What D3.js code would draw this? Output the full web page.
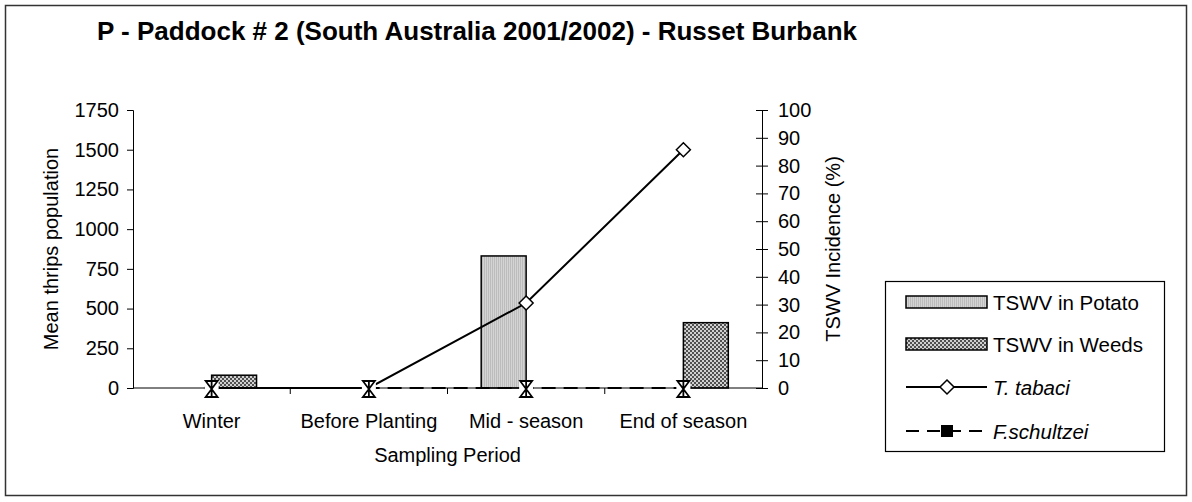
<!DOCTYPE html>
<html>
<head>
<meta charset="utf-8">
<script src="https://cdn.jsdelivr.net/npm/d3@7"></script>
<style>
  html, body { margin: 0; padding: 0; background: #fff; }
  svg text { font-family: "Liberation Sans", Arial, sans-serif; fill: #000; }
</style>
</head>
<body>
<svg id="chart" width="1192" height="502"></svg>
<script>
// Sampling periods and series
const periods = ["Winter", "Before Planting", "Mid - season", "End of season"];
const tswvPotato = [0, 0, 47.5, 0];      // TSWV incidence in potato (%)
const tswvWeeds = [4.6, 0, 0, 23.5];     // TSWV incidence in weeds (%)
const tTabaci = [0, 0, 535, 1500];       // mean thrips population
const fSchultzei = [0, 0, 0, 0];         // mean thrips population
const leftTicks = [0, 250, 500, 750, 1000, 1250, 1500, 1750];
const rightTicks = [0, 10, 20, 30, 40, 50, 60, 70, 80, 90, 100];

const svg = d3.select("#chart");
const plot = { left: 133, right: 762, top: 110, bottom: 388 };

// fill patterns for the two bar series
const defs = svg.append("defs");
const pPot = defs.append("pattern").attr("id", "patPotato")
  .attr("patternUnits", "userSpaceOnUse").attr("width", 2).attr("height", 2);
pPot.append("rect").attr("width", 2).attr("height", 2).attr("fill", "#d4d4d4");
pPot.append("rect").attr("width", 1).attr("height", 2).attr("fill", "#bcbcbc");

const pWd = defs.append("pattern").attr("id", "patWeeds")
  .attr("patternUnits", "userSpaceOnUse").attr("width", 4).attr("height", 4);
pWd.append("rect").attr("width", 4).attr("height", 4).attr("fill", "#d0d0d0");
pWd.append("rect").attr("width", 2).attr("height", 2).attr("fill", "#505050");
pWd.append("rect").attr("x", 2).attr("y", 2).attr("width", 2).attr("height", 2).attr("fill", "#505050");

// outer frame
svg.append("rect").attr("x", 5.5).attr("y", 5.5).attr("width", 1181).attr("height", 490)
  .attr("fill", "none").attr("stroke", "#333").attr("stroke-width", 1.5);

// title
svg.append("text").attr("x", 97).attr("y", 40)
  .style("font-size", "26px").style("font-weight", "bold")
  .text("P - Paddock # 2 (South Australia 2001/2002) - Russet Burbank");

// scales
const x = d3.scaleBand().domain(periods).range([plot.left, plot.right]).paddingInner(0).paddingOuter(0);
const yL = d3.scaleLinear().domain([0, 1750]).range([plot.bottom, plot.top]);
const yR = d3.scaleLinear().domain([0, 100]).range([plot.bottom, plot.top]);
const barW = x.bandwidth() / 3.5;
const sub = d3.scaleBand().domain(["potato", "weeds"]).range([-barW, barW]);
const cx = d => x(d) + x.bandwidth() / 2;

// bars (right axis)
const barSeries = [
  { key: "potato", values: tswvPotato, fill: "url(#patPotato)" },
  { key: "weeds", values: tswvWeeds, fill: "url(#patWeeds)" }
];
barSeries.forEach(s => {
  svg.append("g").selectAll("rect")
    .data(periods.map((p, i) => ({ p, v: s.values[i] })).filter(d => d.v > 0))
    .join("rect")
    .attr("x", d => cx(d.p) + sub(s.key))
    .attr("y", d => yR(d.v))
    .attr("width", sub.bandwidth())
    .attr("height", d => yR(0) - yR(d.v))
    .attr("fill", s.fill)
    .attr("stroke", "#000").attr("stroke-width", 1.5);
});

// left axis
const axL = svg.append("g").attr("transform", `translate(${plot.left},0)`)
  .call(d3.axisLeft(yL).tickValues(leftTicks).tickSize(6).tickPadding(8).tickFormat(d3.format("d")));
axL.selectAll("text").style("font-size", "20px");

// right axis with crossing ticks
const axR = svg.append("g").attr("transform", `translate(${plot.right},0)`)
  .call(d3.axisRight(yR).tickValues(rightTicks).tickSize(6).tickPadding(10).tickFormat(d3.format("d")));
axR.selectAll(".tick line").attr("x1", -6);
axR.selectAll("text").style("font-size", "20px");

// bottom axis: ticks at band boundaries
const axB = svg.append("g").attr("transform", `translate(0,${plot.bottom})`)
  .call(d3.axisBottom(x).tickSize(0).tickPadding(26));
axB.selectAll("text").style("font-size", "20px");
axB.select(".domain").remove();
svg.append("g").selectAll("line")
  .data(periods.slice(1))
  .join("line")
  .attr("x1", d => x(d)).attr("x2", d => x(d))
  .attr("y1", plot.bottom).attr("y2", plot.bottom + 6)
  .attr("stroke", "#000");
svg.append("line").attr("x1", plot.left).attr("x2", plot.right)
  .attr("y1", plot.bottom).attr("y2", plot.bottom).attr("stroke", "#000");

[axL, axR].forEach(a => a.selectAll("path.domain, line").attr("stroke", "#000"));

// axis titles
svg.append("text")
  .attr("transform", `translate(51,${(plot.top + plot.bottom) / 2}) rotate(-90)`)
  .attr("text-anchor", "middle").attr("dominant-baseline", "central")
  .style("font-size", "20px").text("Mean thrips population");
svg.append("text")
  .attr("transform", `translate(833,${(plot.top + plot.bottom) / 2}) rotate(-90)`)
  .attr("text-anchor", "middle").attr("dominant-baseline", "central")
  .style("font-size", "20px").text("TSWV Incidence (%)");
svg.append("text").attr("x", (plot.left + plot.right) / 2).attr("y", 462)
  .attr("text-anchor", "middle").style("font-size", "20px").text("Sampling Period");

// lines (left axis)
const line = d3.line().x((d, i) => cx(periods[i])).y(d => yL(d));
svg.append("path").datum(fSchultzei).attr("d", line)
  .attr("fill", "none").attr("stroke", "#000").attr("stroke-width", 2).attr("stroke-dasharray", "14,8");
svg.append("path").datum(tTabaci).attr("d", line)
  .attr("fill", "none").attr("stroke", "#000").attr("stroke-width", 2);

const diamond = "M0,-7L7,0L0,7L-7,0Z";
svg.append("g").selectAll("path")
  .data(tTabaci)
  .join("path")
  .attr("transform", (d, i) => `translate(${cx(periods[i])},${yL(d)})`)
  .attr("d", diamond).attr("fill", "#fff").attr("stroke", "#000").attr("stroke-width", 1.5);

// F.schultzei point markers
const glyph = "M-6,-8H6L-6,8H6Z M0,-8V8";
svg.append("g").selectAll("g")
  .data(fSchultzei)
  .join("g")
  .attr("transform", (d, i) => `translate(${cx(periods[i])},${yL(d) + 1})`)
  .call(g => {
    g.append("rect").attr("x", -7).attr("y", -9).attr("width", 14).attr("height", 18).attr("fill", "#fff");
    g.append("path").attr("d", glyph).attr("fill", "none").attr("stroke", "#000").attr("stroke-width", 1.8);
  });

// legend
const lg = svg.append("g");
lg.append("rect").attr("x", 885.5).attr("y", 281.5).attr("width", 279).attr("height", 170)
  .attr("fill", "#fff").attr("stroke", "#000").attr("stroke-width", 1.2);
const legendItems = [
  { label: "TSWV in Potato", type: "bar", fill: "url(#patPotato)", italic: false },
  { label: "TSWV in Weeds", type: "bar", fill: "url(#patWeeds)", italic: false },
  { label: "T. tabaci", type: "diamond", italic: true },
  { label: "F.schultzei", type: "square", italic: true }
];
const ly = [302, 344, 387, 431];
legendItems.forEach((it, i) => {
  const y = ly[i];
  if (it.type === "bar") {
    lg.append("rect").attr("x", 906).attr("y", y - 6).attr("width", 81).attr("height", 12)
      .attr("fill", it.fill).attr("stroke", "#000").attr("stroke-width", 1.5);
  } else if (it.type === "diamond") {
    lg.append("line").attr("x1", 906).attr("x2", 987).attr("y1", y).attr("y2", y)
      .attr("stroke", "#000").attr("stroke-width", 2);
    lg.append("path").attr("transform", `translate(947,${y})`).attr("d", diamond)
      .attr("fill", "#fff").attr("stroke", "#000").attr("stroke-width", 1.5);
  } else {
    lg.append("line").attr("x1", 906).attr("x2", 987).attr("y1", y).attr("y2", y)
      .attr("stroke", "#000").attr("stroke-width", 2).attr("stroke-dasharray", "13,8");
    lg.append("rect").attr("x", 941).attr("y", y - 6).attr("width", 12).attr("height", 12).attr("fill", "#000");
  }
  lg.append("text").attr("x", 993).attr("y", y).attr("dominant-baseline", "central")
    .style("font-size", "20.5px").style("font-style", it.italic ? "italic" : "normal")
    .text(it.label);
});
</script>
</body>
</html>
